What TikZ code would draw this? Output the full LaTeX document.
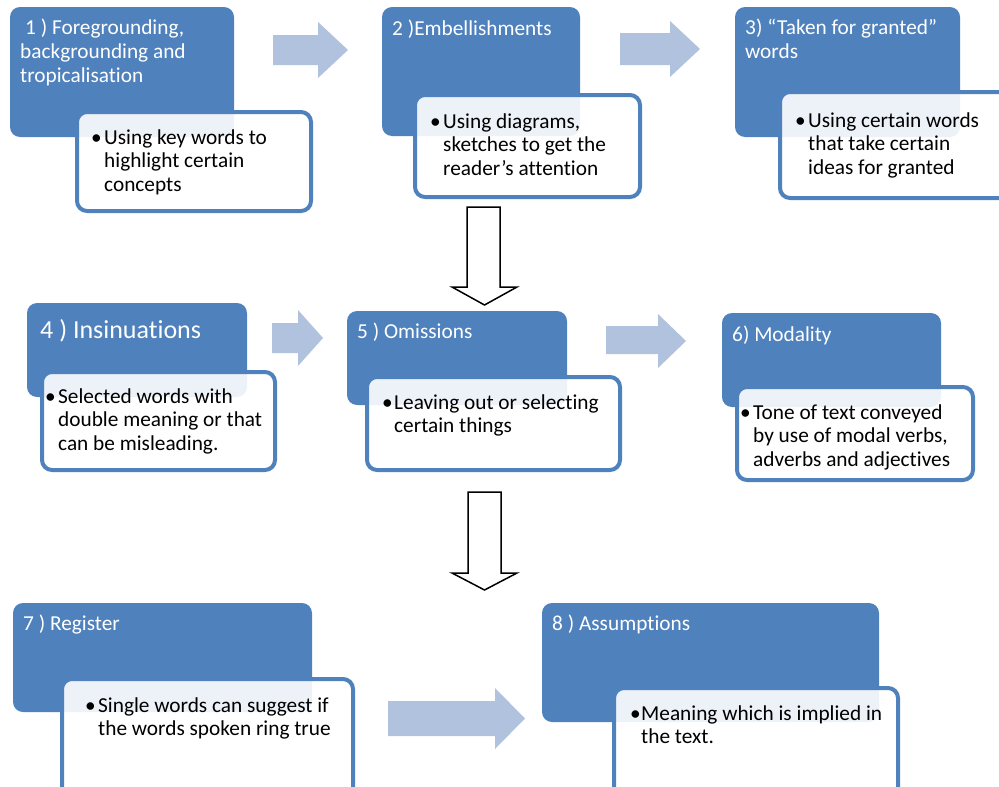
\documentclass[tikz,border=0pt]{standalone}
\usepackage{fontspec}
\setmainfont[Ligatures=NoCommon]{Carlito}
\definecolor{boxblue}{RGB}{79,129,189}
\definecolor{arrowblue}{RGB}{176,194,222}
\begin{document}
\begin{tikzpicture}[x=1pt,y=-1pt,
  bluebox/.style={fill=boxblue, rounded corners=10pt, inner sep=0pt, outer sep=0pt, anchor=north west},
  whitebox/.style={draw=boxblue, line width=4pt, fill=white, fill opacity=0.9, rounded corners=10pt, inner sep=0pt, outer sep=0pt, anchor=north west},
  ttl/.style={text=white, font=\fontsize{21.3}{24}\selectfont, align=left, inner sep=0pt, anchor=north west},
  bigttl/.style={text=white, font=\fontsize{26}{30}\selectfont, align=left, inner sep=0pt, anchor=north west},
  body/.style={text=black, font=\fontsize{21.3}{23.5}\selectfont, align=left, inner sep=0pt, anchor=north west},
  bul/.style={text=black, font=\fontsize{21.3}{23.5}\selectfont, inner sep=0pt, anchor=north west},
  blk/.style={fill=arrowblue},
  dn/.style={draw=black, fill=white, line width=1.5pt, line join=miter}]
\useasboundingbox (0,0) rectangle (999,787);
\clip (0,0) rectangle (999,787);

% blue boxes
\node[bluebox, minimum width=224, minimum height=130] (b1) at (10,7) {};
\node[bluebox, minimum width=198, minimum height=129] (b2) at (382,7) {};
\node[bluebox, minimum width=225, minimum height=130] (b3) at (735,7) {};
\node[bluebox, minimum width=220, minimum height=94] (b4) at (27,303) {};
\node[bluebox, minimum width=220, minimum height=94] (b5) at (347,311) {};
\node[bluebox, minimum width=219, minimum height=94] (b6) at (722,313) {};
\node[bluebox, minimum width=299, minimum height=109] (b7) at (13,603) {};
\node[bluebox, minimum width=337, minimum height=119] (b8) at (542,603) {};

% white boxes
\node[whitebox, minimum width=234, minimum height=99] (w1) at (77,112) {};
\node[whitebox, minimum width=225, minimum height=102] (w2) at (415,95) {};
\node[whitebox, minimum width=240, minimum height=106] (w3) at (780,92) {};
\node[whitebox, minimum width=233, minimum height=98] (w4) at (42,372) {};
\node[whitebox, minimum width=253, minimum height=93] (w5) at (367,377) {};
\node[whitebox, minimum width=236, minimum height=93] (w6) at (737,387) {};
\node[whitebox, minimum width=291, minimum height=130] (w7) at (62,679) {};
\node[whitebox, minimum width=284, minimum height=130] (w8) at (614,688) {};

% light block arrows
\fill[blk] (273,35) -- (318,35) -- (318,22) -- (348,50) -- (318,78) -- (318,65) -- (273,65) -- cycle;
\fill[blk] (620,33) -- (670,33) -- (670,21) -- (700,49) -- (670,77) -- (670,65) -- (620,65) -- cycle;
\fill[blk] (272,323) -- (298,323) -- (298,310) -- (323,338) -- (298,366) -- (298,353) -- (272,353) -- cycle;
\fill[blk] (606,326) -- (658,326) -- (658,314) -- (686,341) -- (658,368) -- (658,354) -- (606,354) -- cycle;
\fill[blk] (388,701) -- (495,701) -- (495,688) -- (525,718.5) -- (495,749) -- (495,736) -- (388,736) -- cycle;

% down arrows
\draw[dn] (467,207) -- (500,207) -- (500,287) -- (517,287) -- (484.5,305) -- (452,287) -- (467,287) -- cycle;
\draw[dn] (468,492) -- (501,492) -- (501,573) -- (517,573) -- (484.5,590) -- (452,573) -- (468,573) -- cycle;

% titles
\node[ttl] (t1) at (20,14) {\rule{0pt}{20pt}\hspace*{5pt}1 ) Foregrounding,\\backgrounding and\\tropicalisation};
\node[ttl] (t2) at (392,15) {\rule{0pt}{20pt}2 )Embellishments};
\node[ttl] (t3) at (745,14) {\rule{0pt}{20pt}3) “Taken for granted”\\words};
\node[bigttl] (t4) at (40,314) {\rule{0pt}{24pt}4 ) Insinuations};
\node[ttl] (t5) at (357,318) {\rule{0pt}{20pt}5 ) Omissions};
\node[ttl] (t6) at (732,321) {\rule{0pt}{20pt}6) Modality};
\node[ttl] (t7) at (23,610) {\rule{0pt}{20pt}7 ) Register};
\node[ttl] (t8) at (552,610) {\rule{0pt}{20pt}8 ) Assumptions};

% bullets and body text
\node[bul] (u1) at (91,124) {\rule{0pt}{20pt}•};
\node[body] (p1) at (104,124) {\rule{0pt}{20pt}Using key words to\\highlight certain\\concepts};
\node[bul] (u2) at (430,108) {\rule{0pt}{20pt}•};
\node[body] (p2) at (443,108) {\rule{0pt}{20pt}Using diagrams,\\sketches to get the\\reader’s attention};
\node[bul] (u3) at (795,107) {\rule{0pt}{20pt}•};
\node[body] (p3) at (808,107) {\rule{0pt}{20pt}Using certain words\\that take certain\\ideas for granted};
\node[bul] (u4) at (45,383) {\rule{0pt}{20pt}•};
\node[body] (p4) at (58,383) {\rule{0pt}{20pt}Selected words with\\double meaning or that\\can be misleading.};
\node[bul] (u5) at (382,389) {\rule{0pt}{20pt}•};
\node[body] (p5) at (394,389) {\rule{0pt}{20pt}Leaving out or selecting\\certain things};
\node[bul] (u6) at (740,399) {\rule{0pt}{20pt}•};
\node[body] (p6) at (753,399) {\rule{0pt}{20pt}Tone of text conveyed\\by use of modal verbs,\\adverbs and adjectives};
\node[bul] (u7) at (85,692) {\rule{0pt}{20pt}•};
\node[body] (p7) at (98,692) {\rule{0pt}{20pt}Single words can suggest if\\the words spoken ring true};
\node[bul] (u8) at (630,700) {\rule{0pt}{20pt}•};
\node[body] (p8) at (641,700) {\rule{0pt}{20pt}Meaning which is implied in\\the text.};
\end{tikzpicture}
\end{document}
